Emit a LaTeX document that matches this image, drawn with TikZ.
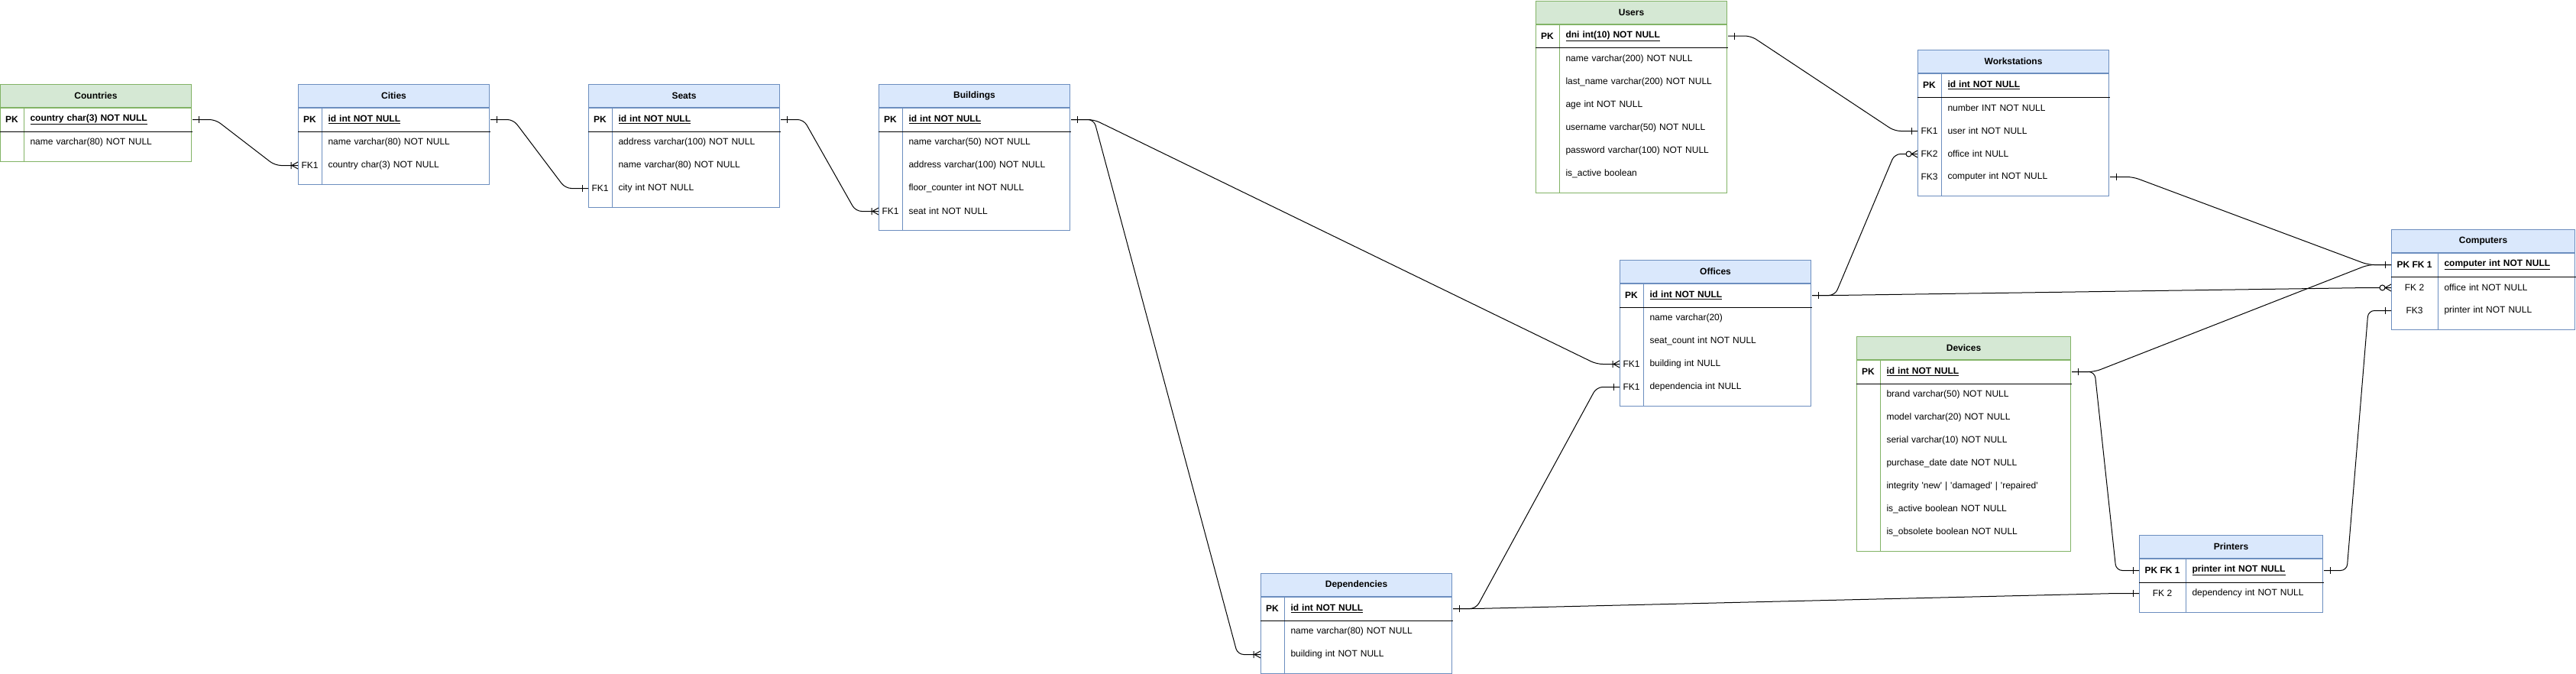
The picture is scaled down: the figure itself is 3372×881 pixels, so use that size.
\documentclass[tikz,border=0pt]{standalone}
\usepackage{fontspec}
\setmainfont{Liberation Sans}
\usetikzlibrary{positioning}
\definecolor{bluefill}{HTML}{DAE8FC}
\definecolor{bluedraw}{HTML}{6C8EBF}
\definecolor{greenfill}{HTML}{D5E8D4}
\definecolor{greendraw}{HTML}{82B366}

\pgfarrowsdeclare{erone}{erone}
{\pgfarrowsleftextend{-9pt}\pgfarrowsrightextend{0pt}}
{\pgfpathmoveto{\pgfpoint{-8pt}{-4.5pt}}\pgfpathlineto{\pgfpoint{-8pt}{4.5pt}}\pgfusepathqstroke}
\pgfarrowsdeclare{ermany}{ermany}
{\pgfarrowsleftextend{-10pt}\pgfarrowsrightextend{0pt}}
{\pgfpathmoveto{\pgfpoint{-9pt}{-4.5pt}}\pgfpathlineto{\pgfpoint{-9pt}{4.5pt}}
 \pgfpathmoveto{\pgfpoint{0pt}{4.5pt}}\pgfpathlineto{\pgfpoint{-8pt}{0pt}}\pgfpathlineto{\pgfpoint{0pt}{-4.5pt}}\pgfusepathqstroke}
\pgfarrowsdeclare{erzeromany}{erzeromany}
{\pgfarrowsleftextend{-16pt}\pgfarrowsrightextend{0pt}}
{\pgfpathmoveto{\pgfpoint{0pt}{4.5pt}}\pgfpathlineto{\pgfpoint{-8pt}{0pt}}\pgfpathlineto{\pgfpoint{0pt}{-4.5pt}}\pgfusepathqstroke
 \pgfpathcircle{\pgfpoint{-11.5pt}{0pt}}{3.5pt}\pgfsetfillcolor{white}\pgfusepathqfillstroke}

\begin{document}
\begin{tikzpicture}[x=1pt, y=-1pt, line width=1pt,
    every node/.style={font=\fontsize{12}{14}\selectfont, inner sep=0pt},
    bhead/.style={draw=bluedraw, fill=bluefill, minimum width=250pt, minimum height=30pt, anchor=north west, font=\fontsize{12}{14}\selectfont\bfseries},
    ghead/.style={bhead, draw=greendraw, fill=greenfill},
    bbody/.style={draw=bluedraw, fill=white, minimum width=250pt},
    gbody/.style={bbody, draw=greendraw},
    key/.style={minimum width=30pt, minimum height=30pt, anchor=north west},
    field/.style={text width=204pt, inner xsep=8pt, minimum height=30pt, align=left},
    pk/.style={font=\fontsize{12}{14}\selectfont\bfseries},
    rel/.style={rounded corners=8pt}]
    \useasboundingbox (0,0) rectangle (3372,881);

    % Countries
    \node[ghead] (countries) at (0,110) {Countries};
    \node[gbody, minimum height=70pt, below=0pt of countries] (countries-b) {};
    \node[key, pk] (countries-k1) at (countries.south west) {PK};
    \node[field, pk, right=0pt of countries-k1] (countries-f1) {\underline{country char(3) NOT NULL}};
    \foreach \k/\t [count=\i from 2] in {/name varchar(80) NOT NULL}
        {\node[key, yshift=30-30*\i] (countries-k\i) at (countries.south west) {\k};
         \node[field, right=0pt of countries-k\i] (countries-f\i) {\t};}
    \draw[greendraw] (countries-k1.north east) -- (countries-k1.north east |- countries-b.south);
    \draw (countries-k1.south west) -- (countries-f1.south east);

    % Cities
    \node[bhead] (cities) at (390,110) {Cities};
    \node[bbody, minimum height=100pt, below=0pt of cities] (cities-b) {};
    \node[key, pk] (cities-k1) at (cities.south west) {PK};
    \node[field, pk, right=0pt of cities-k1] (cities-f1) {\underline{id int NOT NULL}};
    \foreach \k/\t [count=\i from 2] in {/name varchar(80) NOT NULL, FK1/country char(3) NOT NULL}
        {\node[key, yshift=30-30*\i] (cities-k\i) at (cities.south west) {\k};
         \node[field, right=0pt of cities-k\i] (cities-f\i) {\t};}
    \draw[bluedraw] (cities-k1.north east) -- (cities-k1.north east |- cities-b.south);
    \draw (cities-k1.south west) -- (cities-f1.south east);

    % Seats
    \node[bhead] (seats) at (770,110) {Seats};
    \node[bbody, minimum height=130pt, below=0pt of seats] (seats-b) {};
    \node[key, pk] (seats-k1) at (seats.south west) {PK};
    \node[field, pk, right=0pt of seats-k1] (seats-f1) {\underline{id int NOT NULL}};
    \foreach \k/\t [count=\i from 2] in {/address varchar(100) NOT NULL, /name varchar(80) NOT NULL, FK1/city int NOT NULL}
        {\node[key, yshift=30-30*\i] (seats-k\i) at (seats.south west) {\k};
         \node[field, right=0pt of seats-k\i] (seats-f\i) {\t};}
    \draw[bluedraw] (seats-k1.north east) -- (seats-k1.north east |- seats-b.south);
    \draw (seats-k1.south west) -- (seats-f1.south east);

    % Buildings
    \node[bhead] (buildings) at (1150,110) {Buildings};
    \node[bbody, minimum height=160pt, below=0pt of buildings] (buildings-b) {};
    \node[key, pk] (buildings-k1) at (buildings.south west) {PK};
    \node[field, pk, right=0pt of buildings-k1] (buildings-f1) {\underline{id int NOT NULL}};
    \foreach \k/\t [count=\i from 2] in {/name varchar(50) NOT NULL, /address varchar(100) NOT NULL, /floor\_counter int NOT NULL, FK1/seat int NOT NULL}
        {\node[key, yshift=30-30*\i] (buildings-k\i) at (buildings.south west) {\k};
         \node[field, right=0pt of buildings-k\i] (buildings-f\i) {\t};}
    \draw[bluedraw] (buildings-k1.north east) -- (buildings-k1.north east |- buildings-b.south);
    \draw (buildings-k1.south west) -- (buildings-f1.south east);

    % Users
    \node[ghead] (users) at (2010,0.5) {Users};
    \node[gbody, minimum height=220pt, below=0pt of users] (users-b) {};
    \node[key, pk] (users-k1) at (users.south west) {PK};
    \node[field, pk, right=0pt of users-k1] (users-f1) {\underline{dni int(10) NOT NULL}};
    \foreach \k/\t [count=\i from 2] in {/name varchar(200) NOT NULL, /last\_name varchar(200) NOT NULL, /age int NOT NULL, /username varchar(50) NOT NULL, /password varchar(100) NOT NULL, /is\_active boolean}
        {\node[key, yshift=30-30*\i] (users-k\i) at (users.south west) {\k};
         \node[field, right=0pt of users-k\i] (users-f\i) {\t};}
    \draw[greendraw] (users-k1.north east) -- (users-k1.north east |- users-b.south);
    \draw (users-k1.south west) -- (users-f1.south east);

    % Workstations
    \node[bhead] (workstations) at (2510,65) {Workstations};
    \node[bbody, minimum height=160pt, below=0pt of workstations] (workstations-b) {};
    \node[key, pk] (workstations-k1) at (workstations.south west) {PK};
    \node[field, pk, right=0pt of workstations-k1] (workstations-f1) {\underline{id int NOT NULL}};
    \foreach \k/\t [count=\i from 2] in {/number INT NOT NULL, FK1/user int NOT NULL, FK2/office int NULL, FK3/computer int NOT NULL}
        {\node[key, yshift=30-30*\i] (workstations-k\i) at (workstations.south west) {\k};
         \node[field, right=0pt of workstations-k\i] (workstations-f\i) {\t};}
    \draw[bluedraw] (workstations-k1.north east) -- (workstations-k1.north east |- workstations-b.south);
    \draw (workstations-k1.south west) -- (workstations-f1.south east);

    % Offices
    \node[bhead] (offices) at (2120,340) {Offices};
    \node[bbody, minimum height=160pt, below=0pt of offices] (offices-b) {};
    \node[key, pk] (offices-k1) at (offices.south west) {PK};
    \node[field, pk, right=0pt of offices-k1] (offices-f1) {\underline{id int NOT NULL}};
    \foreach \k/\t [count=\i from 2] in {/name varchar(20), /seat\_count int NOT NULL, FK1/building int NULL, FK1/dependencia int NULL}
        {\node[key, yshift=30-30*\i] (offices-k\i) at (offices.south west) {\k};
         \node[field, right=0pt of offices-k\i] (offices-f\i) {\t};}
    \draw[bluedraw] (offices-k1.north east) -- (offices-k1.north east |- offices-b.south);
    \draw (offices-k1.south west) -- (offices-f1.south east);

    % Devices
    \begin{scope}[bhead/.append style={minimum width=280pt}, bbody/.append style={minimum width=280pt}, field/.append style={text width=234pt}]
    \node[ghead] (devices) at (2430,440) {Devices};
    \node[gbody, minimum height=250pt, below=0pt of devices] (devices-b) {};
    \node[key, pk] (devices-k1) at (devices.south west) {PK};
    \node[field, pk, right=0pt of devices-k1] (devices-f1) {\underline{id int NOT NULL}};
    \foreach \k/\t [count=\i from 2] in {/brand varchar(50) NOT NULL, /model varchar(20) NOT NULL, /serial varchar(10) NOT NULL, /purchase\_date date NOT NULL, /integrity \textquotesingle new\textquotesingle{} | \textquotesingle damaged\textquotesingle{} | \textquotesingle repaired\textquotesingle, /is\_active boolean NOT NULL, /is\_obsolete boolean NOT NULL}
        {\node[key, yshift=30-30*\i] (devices-k\i) at (devices.south west) {\k};
         \node[field, right=0pt of devices-k\i] (devices-f\i) {\t};}
    \draw[greendraw] (devices-k1.north east) -- (devices-k1.north east |- devices-b.south);
    \draw (devices-k1.south west) -- (devices-f1.south east);
    \end{scope}

    \begin{scope}[bhead/.append style={minimum width=240pt}, bbody/.append style={minimum width=240pt}, key/.append style={minimum width=60pt}, field/.append style={text width=164pt}]
    % Computers
    \node[bhead] (computers) at (3130,300) {Computers};
    \node[bbody, minimum height=100pt, below=0pt of computers] (computers-b) {};
    \node[key, pk] (computers-k1) at (computers.south west) {PK FK 1};
    \node[field, pk, right=0pt of computers-k1] (computers-f1) {\underline{computer int NOT NULL}};
    \foreach \k/\t [count=\i from 2] in {FK 2/office int NOT NULL, FK3/printer int NOT NULL}
        {\node[key, yshift=30-30*\i] (computers-k\i) at (computers.south west) {\k};
         \node[field, right=0pt of computers-k\i] (computers-f\i) {\t};}
    \draw[bluedraw] (computers-k1.north east) -- (computers-k1.north east |- computers-b.south);
    \draw (computers-k1.south west) -- (computers-f1.south east);

    % Printers
    \node[bhead] (printers) at (2800,700) {Printers};
    \node[bbody, minimum height=70pt, below=0pt of printers] (printers-b) {};
    \node[key, pk] (printers-k1) at (printers.south west) {PK FK 1};
    \node[field, pk, right=0pt of printers-k1] (printers-f1) {\underline{printer int NOT NULL}};
    \foreach \k/\t [count=\i from 2] in {FK 2/dependency int NOT NULL}
        {\node[key, yshift=30-30*\i] (printers-k\i) at (printers.south west) {\k};
         \node[field, right=0pt of printers-k\i] (printers-f\i) {\t};}
    \draw[bluedraw] (printers-k1.north east) -- (printers-k1.north east |- printers-b.south);
    \draw (printers-k1.south west) -- (printers-f1.south east);
    \end{scope}

    % Dependencies
    \node[bhead] (dependencies) at (1650,750) {Dependencies};
    \node[bbody, minimum height=100pt, below=0pt of dependencies] (dependencies-b) {};
    \node[key, pk] (dependencies-k1) at (dependencies.south west) {PK};
    \node[field, pk, right=0pt of dependencies-k1] (dependencies-f1) {\underline{id int NOT NULL}};
    \foreach \k/\t [count=\i from 2] in {/name varchar(80) NOT NULL, /building int NOT NULL}
        {\node[key, yshift=30-30*\i] (dependencies-k\i) at (dependencies.south west) {\k};
         \node[field, right=0pt of dependencies-k\i] (dependencies-f\i) {\t};}
    \draw[bluedraw] (dependencies-k1.north east) -- (dependencies-k1.north east |- dependencies-b.south);
    \draw (dependencies-k1.south west) -- (dependencies-f1.south east);

    % relations
    \draw[rel, erone-ermany] (countries-f1.east) -- ++(30,0) -- ([xshift=-30pt]cities-k3.west) -- (cities-k3.west);
    \draw[rel, erone-erone] (cities-f1.east) -- ++(30,0) -- ([xshift=-30pt]seats-k4.west) -- (seats-k4.west);
    \draw[rel, erone-ermany] (seats-f1.east) -- ++(30,0) -- ([xshift=-30pt]buildings-k5.west) -- (buildings-k5.west);
    \draw[rel, erone-ermany] (buildings-f1.east) -- ++(30,0) -- ([xshift=-30pt]offices-k4.west) -- (offices-k4.west);
    \draw[rel, erone-ermany] (buildings-f1.east) -- ++(30,0) -- ([xshift=-30pt]dependencies-k3.west) -- (dependencies-k3.west);
    \draw[rel, erone-erone] (users-f1.east) -- ++(30,0) -- ([xshift=-30pt]workstations-k3.west) -- (workstations-k3.west);
    \draw[rel, erone-erzeromany] (offices-f1.east) -- ++(30,0) -- ([xshift=-30pt]workstations-k4.west) -- (workstations-k4.west);
    \draw[rel, erone-erzeromany] (offices-f1.east) -- ++(30,0) -- ([xshift=-30pt]computers-k2.west) -- (computers-k2.west);
    \draw[rel, erone-erone] (workstations-f5.east) -- ++(30,0) -- ([xshift=-30pt]computers-k1.west) -- (computers-k1.west);
    \draw[rel, erone-erone] (devices-f1.east) -- ++(30,0) -- ([xshift=-30pt]computers-k1.west) -- (computers-k1.west);
    \draw[rel, erone-erone] (devices-f1.east) -- ++(30,0) -- ([xshift=-30pt]printers-k1.west) -- (printers-k1.west);
    \draw[rel, erone-erone] (printers-f1.east) -- ++(30,0) -- ([xshift=-30pt]computers-k3.west) -- (computers-k3.west);
    \draw[rel, erone-erone] (dependencies-f1.east) -- ++(30,0) -- ([xshift=-30pt]offices-k5.west) -- (offices-k5.west);
    \draw[rel, erone-erone] (dependencies-f1.east) -- ++(30,0) -- ([xshift=-30pt]printers-k2.west) -- (printers-k2.west);
\end{tikzpicture}
\end{document}
